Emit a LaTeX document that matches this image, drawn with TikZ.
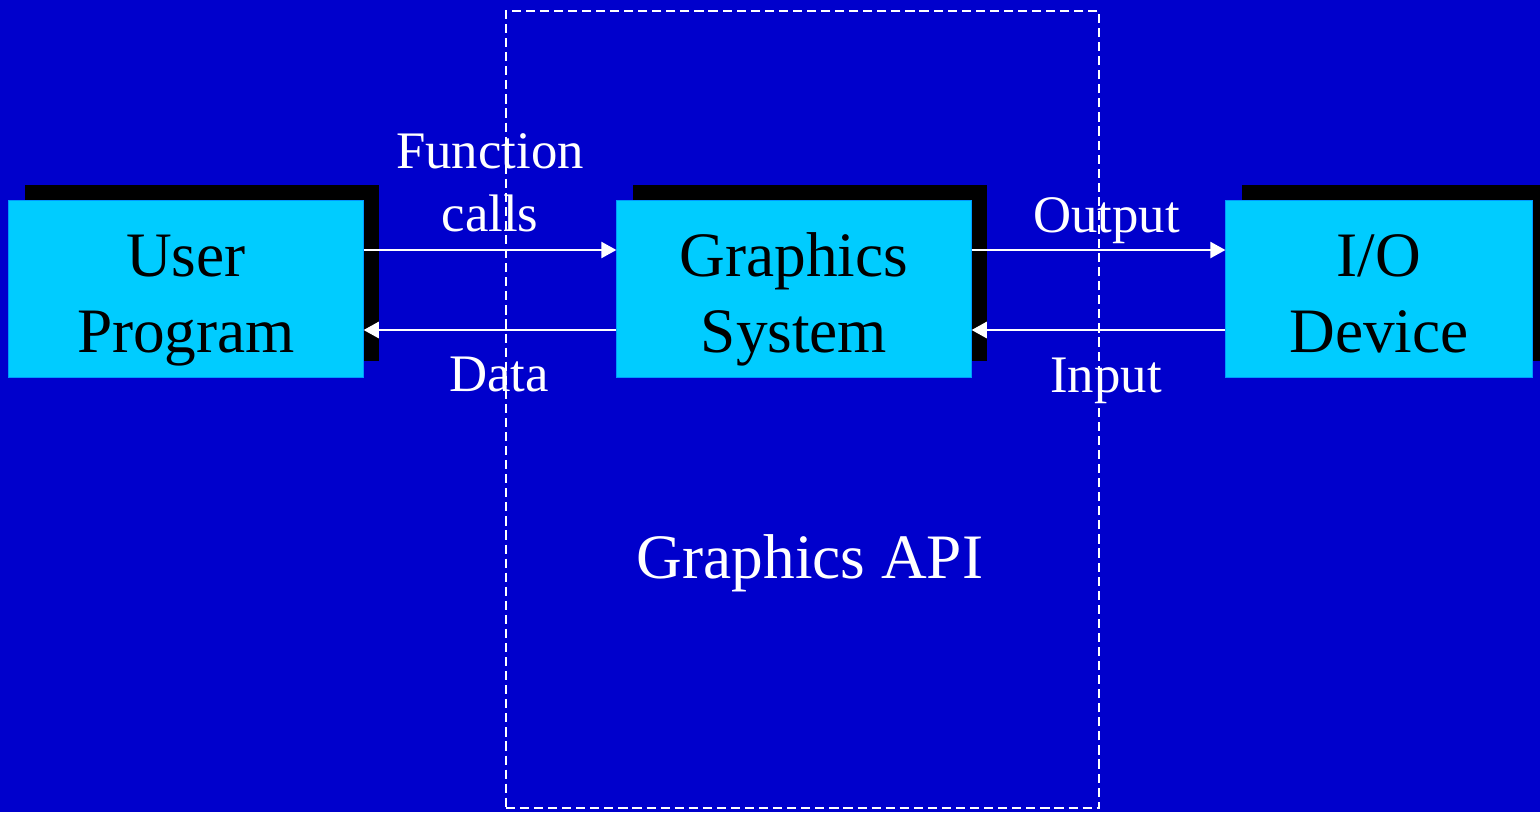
\documentclass[tikz,border=0pt]{standalone}
\usepackage{fontspec}
\setmainfont{Liberation Serif}
\usetikzlibrary{calc,arrows.meta}
\definecolor{bgblue}{RGB}{0,0,204}
\definecolor{boxcyan}{RGB}{0,204,255}
\definecolor{boxedge}{RGB}{0,153,255}
\newcommand\twolines[3]{\vtop{\baselineskip=#3\halign{\hfil##\hfil\cr#1\cr#2\cr}}}
\begin{document}
\begin{tikzpicture}[x=0.01cm,y=-0.01cm,
  box/.style={fill=boxcyan,draw=boxedge,line width=0.3pt,minimum height=1.76cm,inner sep=0pt},
  shadowbox/.style={fill=black,minimum height=1.76cm,inner sep=0pt},
  boxtext/.style={text=black,font=\fontsize{18}{21.8}\selectfont,inner sep=0pt,anchor=base},
  lbl/.style={text=white,font=\fontsize{15}{18}\selectfont,inner sep=0pt,anchor=base},
  arr/.style={white,line width=0.6pt,-{Triangle[length=4.3pt,width=4.6pt]}},
  apibox/.style={draw=white,line width=0.6pt,dash pattern=on 2.6pt off 1.4pt,minimum width=5.93cm,minimum height=7.97cm,inner sep=0pt}
]
\useasboundingbox (0,0) rectangle (1540,812);
\fill[bgblue] (0,0) rectangle (1540,812);

% dashed API region
\node[apibox] (api) at (802.5,409.5) {};
\node[text=white,font=\fontsize{18}{21.8}\selectfont,inner sep=0pt,anchor=base] (apit) at (810,578) {Graphics API};

% shadows
\node[shadowbox,minimum width=3.54cm] (ups) at (202,273) {};
\node[shadowbox,minimum width=3.54cm] (gss) at (810,273) {};
\node[shadowbox,minimum width=3.06cm] (ios) at (1395,273) {};

% boxes
\node[box,minimum width=3.54cm] (up) at (186,289) {};
\node[box,minimum width=3.54cm] (gs) at (794,289) {};
\node[box,minimum width=3.06cm] (io) at (1379,289) {};

% box texts
\node[boxtext] (upt) at (186,276) {\twolines{User}{Program}{21.8pt}};
\node[boxtext] (gst) at (794,276) {\twolines{Graphics}{System}{21.8pt}};
\node[boxtext] (iot) at (1379,276) {\twolines{I/O}{Device}{21.8pt}};

% connectors
\draw[arr] ($(up.east)+(0,-39)$) -- ($(gs.west)+(0,-39)$);
\draw[arr] ($(gs.west)+(0,41)$) -- ($(up.east)+(0,41)$);
\draw[arr] ($(gs.east)+(0,-39)$) -- ($(io.west)+(0,-39)$);
\draw[arr] ($(io.west)+(0,41)$) -- ($(gs.east)+(0,41)$);

% labels
\node[lbl] (fc) at (490,168) {\twolines{Function}{calls}{18pt}};
\node[lbl] (dt) at (499,391) {Data};
\node[lbl] (op) at (1106.7,232) {Output};
\node[lbl] (ip) at (1106,392) {Input};
\end{tikzpicture}
\end{document}
